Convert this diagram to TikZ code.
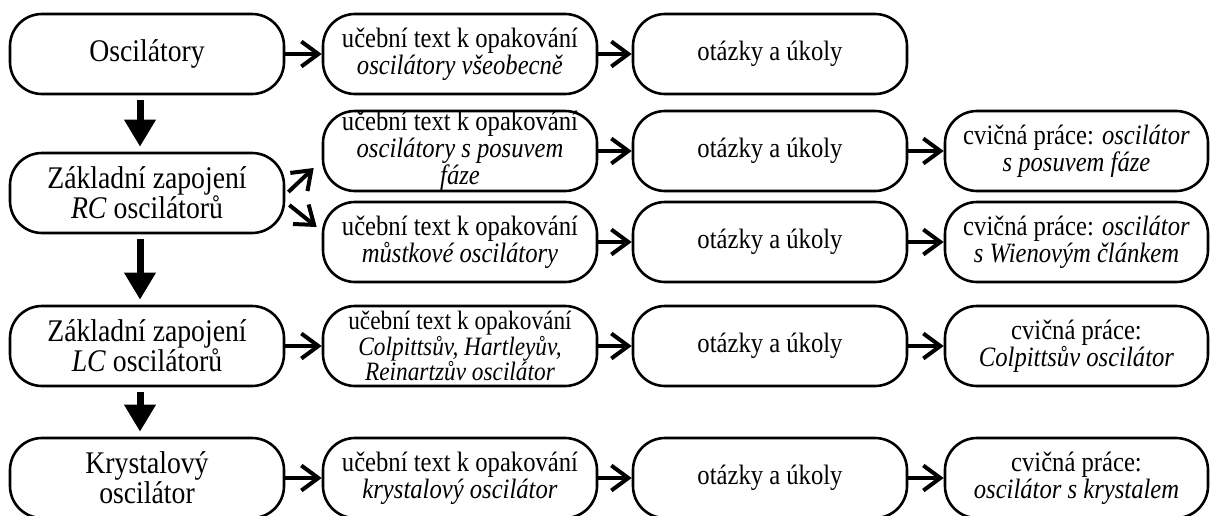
\documentclass[tikz,border=0pt]{standalone}
\usepackage{fontspec}
\setmainfont[FakeStretch=0.88]{Liberation Serif}
\usepackage{tikz}
\usetikzlibrary{arrows.meta,calc}
\tikzstyle{topic} = [draw,line width=2.6pt,rounded corners=32pt,minimum width=274pt,minimum height=80pt,inner sep=0pt,align=center,font=\fontsize{31.5}{30}\selectfont]
\tikzstyle{item} = [topic,font=\fontsize{28}{27}\selectfont]
\tikzstyle{work} = [item,minimum width=263pt]
\tikzstyle{flow} = [line width=4pt,-{Straight Barb[length=17pt,width=25pt]}]
\tikzstyle{down} = [line width=7pt,-{Triangle[length=27pt,width=30pt]},shorten <=5pt,shorten >=5pt]

\begin{document}
\begin{tikzpicture}[x=1pt,y=-1pt]
  \useasboundingbox (0,0) rectangle (1210,515);
  \node (osc)[topic] at (147,54) {Oscilátory};
  \node (rc)[topic] at (147,193) {Základní zapojení\\\textit{RC} oscilátorů};
  \node (lc)[topic] at (147,346) {Základní zapojení\\\textit{LC} oscilátorů};
  \node (kry)[topic] at (147,478) {Krystalový\\oscilátor};

  \node (t1)[item] at (460,54) {učební text k opakování\\\textit{oscilátory všeobecně}};
  \node (t2)[item] at (460,151) {učební text k opakování\\\textit{oscilátory s posuvem}\\\textit{fáze}};
  \node (t3)[item] at (460,242) {učební text k opakování\\\textit{můstkové oscilátory}};
  \node (t4)[item,font=\fontsize{26.5}{23}\selectfont] at (460,346) {učební text k opakování\\\textit{Colpittsův, Hartleyův,}\\\textit{Reinartzův oscilátor}};
  \node (t5)[item] at (460,478) {učební text k opakování\\\textit{krystalový oscilátor}};

  \node (q1)[item] at (770,54) {otázky a úkoly};
  \node (q2)[item] at (770,151) {otázky a úkoly};
  \node (q3)[item] at (770,242) {otázky a úkoly};
  \node (q4)[item] at (770,346) {otázky a úkoly};
  \node (q5)[item] at (770,478) {otázky a úkoly};

  \node (w2)[work] at (1076.5,151) {cvičná práce: \textit{oscilátor}\\\textit{s posuvem fáze}};
  \node (w3)[work] at (1076.5,242) {cvičná práce: \textit{oscilátor}\\\textit{s Wienovým článkem}};
  \node (w4)[work] at (1076.5,346) {cvičná práce:\\\textit{Colpittsův oscilátor}};
  \node (w5)[work] at (1076.5,478) {cvičná práce:\\\textit{oscilátor s krystalem}};

  % down the left column
  \draw[down] ([xshift=-7pt]osc.south) -- ([xshift=-7pt]rc.north);
  \draw[down] ([xshift=-7pt]rc.south) -- ([xshift=-7pt]lc.north);
  \draw[down] ([xshift=-7pt]lc.south) -- ([xshift=-7pt]kry.north);

  % rows
  \draw[flow] (osc) -- (t1);
  \draw[flow] (t1) -- (q1);
  \draw[flow] ($(rc.east)+(3,-1)$) -- ($(t2.west)+(-8,17)$);
  \draw[flow] ($(rc.east)+(4,12)$) -- ($(t3.west)+(-5,-15)$);
  \draw[flow] (t2) -- (q2);
  \draw[flow] (q2) -- (w2);
  \draw[flow] (t3) -- (q3);
  \draw[flow] (q3) -- (w3);
  \draw[flow] (lc) -- (t4);
  \draw[flow] (t4) -- (q4);
  \draw[flow] (q4) -- (w4);
  \draw[flow] (kry) -- (t5);
  \draw[flow] (t5) -- (q5);
  \draw[flow] (q5) -- (w5);
\end{tikzpicture}
\end{document}
